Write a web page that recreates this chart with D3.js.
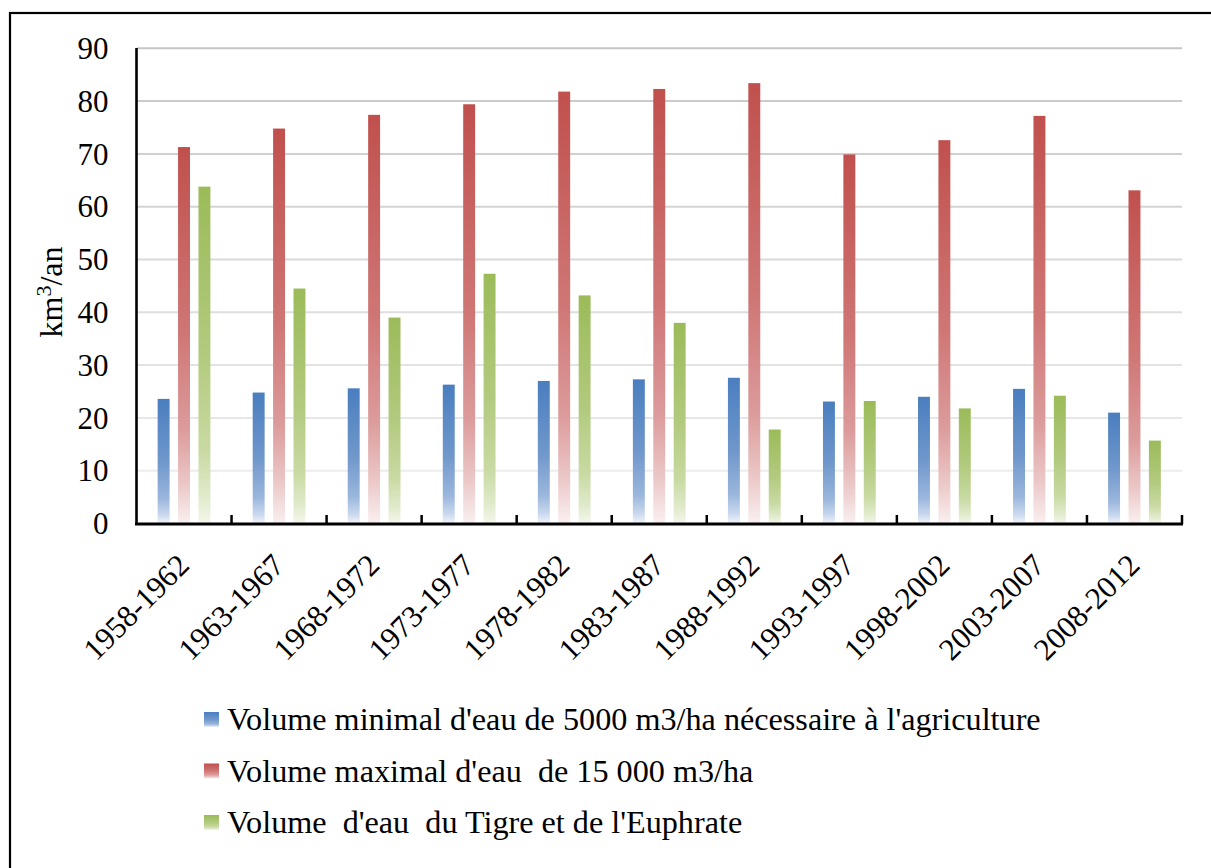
<!DOCTYPE html>
<html><head><meta charset="utf-8">
<script src="https://cdn.jsdelivr.net/npm/d3@7"></script>
<style>body{margin:0;background:#fff}svg{display:block}svg text{font-family:"Liberation Serif","Times New Roman",serif}</style>
</head><body>
<script>
const categories = ["1958-1962","1963-1967","1968-1972","1973-1977","1978-1982","1983-1987","1988-1992","1993-1997","1998-2002","2003-2007","2008-2012"];
const minimalValues = [23.6,24.8,25.6,26.3,27.0,27.3,27.6,23.1,24.0,25.5,21.0];
const maximalValues = [71.3,74.8,77.4,79.4,81.8,82.3,83.4,69.9,72.6,77.2,63.1];
const tigreEuphrateValues = [63.8,44.5,39.0,47.3,43.2,38.0,17.8,23.2,21.8,24.2,15.7];
const seriesNames = ["Volume minimal d'eau de 5000 m3/ha nécessaire à l'agriculture","Volume maximal d'eau  de 15 000 m3/ha","Volume  d'eau  du Tigre et de l'Euphrate"];
const yTicks = [0,10,20,30,40,50,60,70,80,90];

const W = 1211, H = 868;
const svg = d3.select("body").append("svg").attr("width", W).attr("height", H);
const defs = svg.append("defs");
const grads = [
  [["0","#4a7ebf"],["0.5","#6f97cb"],["0.8","#9ab6dc"],["0.93","#c9d8ee"],["1","#f1f5fb"]],
  [["0","#c0504d"],["0.5","#cf7776"],["0.75","#dc9b9b"],["0.9","#ecc9c9"],["1","#faf0f0"]],
  [["0","#9bbb59"],["0.5","#b2ca7e"],["0.78","#c8daa2"],["0.92","#e0eacb"],["1","#f4f7ec"]]
];
grads.forEach((stops,i)=>{
  const g = defs.append("linearGradient").attr("id","g"+i).attr("x1",0).attr("y1",0).attr("x2",0).attr("y2",1);
  stops.forEach(s=>g.append("stop").attr("offset",s[0]).attr("stop-color",s[1]));
});

svg.append("rect").attr("x",10).attr("y",13).attr("width",1230).attr("height",900)
  .attr("fill","none").attr("stroke","#000").attr("stroke-width",2.2);

const x0 = d3.scaleBand().domain(categories).range([136.5,1182]).paddingInner(0.445).paddingOuter(0.2225);
const x1 = d3.scaleBand().domain([0,1,2]).range([0,x0.bandwidth()]).paddingInner(0.415);
const y = d3.scaleLinear().domain([0,90]).range([523.5,48.3]);

const gridColor = d3.scaleLinear().domain([10,90]).range(["#ececec","#c6c6c6"]);
svg.append("g").selectAll("line").data(yTicks.filter(d=>d>0)).join("line")
  .attr("x1",137).attr("x2",1182).attr("y1",d=>y(d)).attr("y2",d=>y(d))
  .attr("stroke",d=>gridColor(d)).attr("stroke-width",2);

const series = [minimalValues, maximalValues, tigreEuphrateValues];
series.forEach((vals,si)=>{
  svg.append("g").selectAll("rect").data(vals).join("rect")
    .attr("x",(d,i)=>x0(categories[i])+x1(si))
    .attr("width",x1.bandwidth())
    .attr("y",d=>y(d))
    .attr("height",d=>y(0)-y(d))
    .attr("fill","url(#g"+si+")");
});

const yAxis = d3.axisLeft(y).tickValues(yTicks).tickSize(0).tickPadding(28);
const ya = svg.append("g").attr("transform","translate(136.5,0)").call(yAxis);
ya.attr("font-family",null).attr("font-size",null);
ya.select(".domain").attr("stroke","#000").attr("stroke-width",2.6).attr("d","M0,48V524.5");
ya.selectAll("text").attr("font-size",31).attr("fill","#000").attr("dy","0.33em");

const xa = svg.append("g").attr("transform","translate(0,524)");
xa.append("line").attr("x1",135).attr("x2",1183).attr("stroke","#000").attr("stroke-width",3);
const tickPos = categories.map(c=>x0(c)-x0.step()*x0.paddingInner()/2).concat([x0(categories[categories.length-1])+x0.bandwidth()+x0.step()*x0.paddingInner()/2]);
xa.selectAll("line.tk").data(tickPos.slice(1)).join("line").attr("class","tk")
  .attr("x1",d=>d).attr("x2",d=>d).attr("y1",0).attr("y2",-9).attr("stroke","#000").attr("stroke-width",2.5);
xa.selectAll("text").data(categories).join("text")
  .attr("transform",c=>`translate(${x0(c)+x0.bandwidth()/2+7},${43}) rotate(-45)`)
  .attr("text-anchor","end").attr("font-size",31).attr("fill","#000").text(c=>c);

const yt = svg.append("text").attr("transform","translate(62,292) rotate(-90)").attr("text-anchor","middle")
  .attr("font-size",32).attr("fill","#000");
yt.append("tspan").text("km");
yt.append("tspan").attr("font-size",22).attr("dy",-11).text("3");
yt.append("tspan").attr("dy",11).text("/an");

const leg = svg.append("g");
seriesNames.forEach((n,i)=>{
  const yy = 730 + i*51.5;
  leg.append("rect").attr("x",204).attr("y",yy-18).attr("width",15).attr("height",15).attr("fill","url(#g"+i+")");
  leg.append("text").attr("x",227).attr("y",yy).attr("font-size",32.2).attr("fill","#000")
    .style("white-space","pre").text(n);
});
</script>
</body></html>
